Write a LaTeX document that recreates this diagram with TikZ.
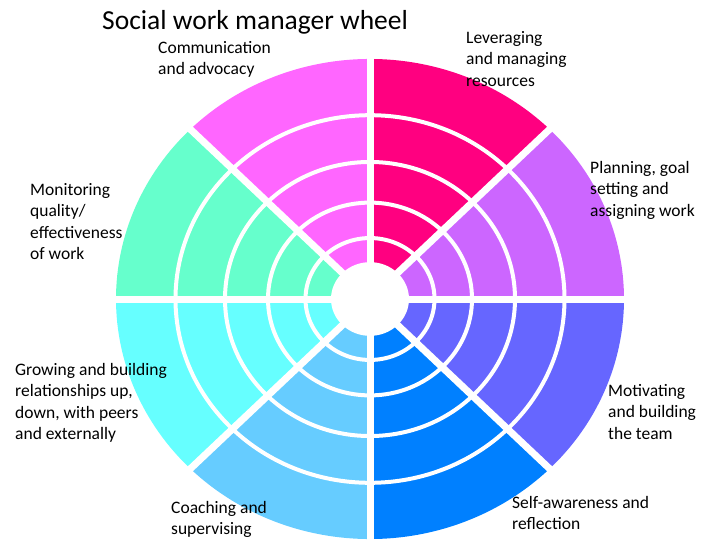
\documentclass[tikz,border=0pt]{standalone}
\usepackage{fontspec}
\setmainfont{Carlito}
\usepackage{tikz}
\usetikzlibrary{positioning}

\definecolor{wMotiv}{HTML}{6666FF}
\definecolor{wSelf}{HTML}{0080FF}
\definecolor{wCoach}{HTML}{66CCFF}
\definecolor{wGrow}{HTML}{66FFFF}
\definecolor{wMonit}{HTML}{66FFCC}
\definecolor{wComm}{HTML}{FF66FF}
\definecolor{wLever}{HTML}{FF0080}
\definecolor{wPlan}{HTML}{CC66FF}

\begin{document}
\begin{tikzpicture}[x=1pt,y=-1pt]
		\tikzstyle{gap}=[draw=white, line width=4pt]
		\tikzstyle{spoke}=[draw=white, line width=7pt]
		\tikzstyle{lbl}=[anchor=north west, inner sep=0pt, align=left, font=\fontsize{17.5}{21.5}\selectfont]
		\useasboundingbox (0,0) rectangle (720,540);
		
		% the wheel
		\begin{scope}[shift={(370,299)}, yscale=0.945]
		\foreach \c [count=\i from 0] in {wMotiv,wSelf,wCoach,wGrow,wMonit,wComm,wLever,wPlan}
			\fill[fill=\c] (0,0) -- (\i*45:254) arc[start angle=\i*45, end angle=\i*45+45, radius=254] -- cycle;
		\foreach \r in {64.5,102,145,194.5}
			\draw[gap] (0,0) circle[radius=\r];
		\foreach \a in {0,45,...,315}
			\draw[spoke] (0,0) -- (\a:262);
		\fill[white] (0,0) circle[radius=39];
		\end{scope}
		
		% labels
		\node[anchor=base west, inner sep=0pt, font=\fontsize{27.5}{30}\selectfont] (title) at (102,30) {Social work manager wheel};
		\node[lbl] (comm)  at (158,41)  {Communication\\and advocacy};
		\node[lbl] (lev)   at (466,31)  {Leveraging\\and managing\\resources};
		\node[lbl] (plan)  at (590,161) {Planning, goal\\setting and\\assigning work};
		\node[lbl] (mon)   at (30,183)  {Monitoring\\quality/\\effectiveness\\of work};
		\node[lbl] (grow)  at (15,363)  {Growing and building\\relationships up,\\down, with peers\\and externally};
		\node[lbl] (mot)   at (608,384) {Motivating\\and building\\the team};
		\node[lbl] (coach) at (171,501) {Coaching and\\supervising};
		\node[lbl] (self)  at (512,496) {Self-awareness and\\reflection};
		\end{tikzpicture}
\end{document}
